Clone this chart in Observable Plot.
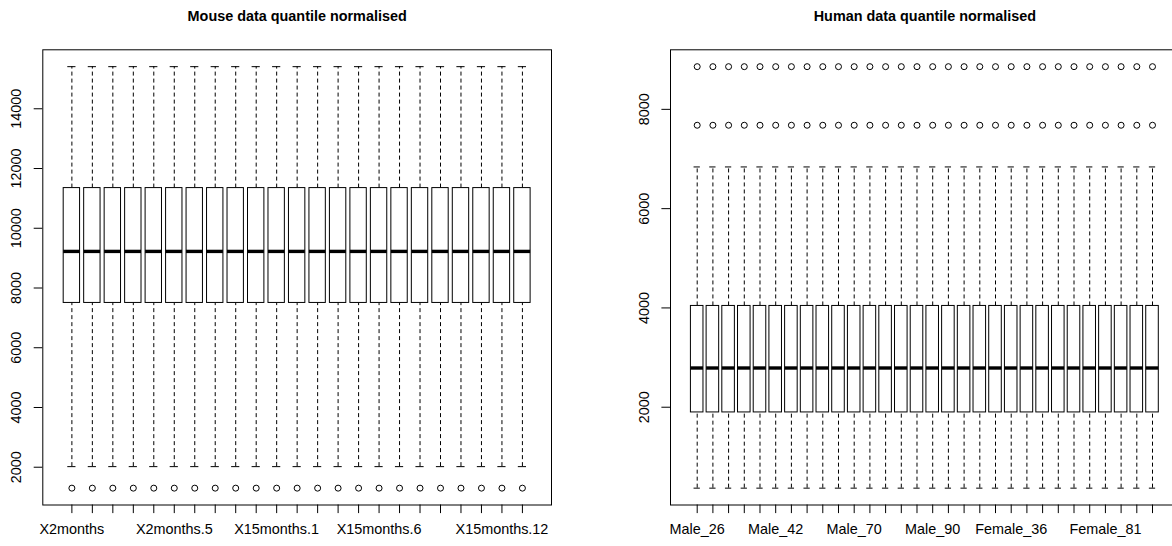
<!DOCTYPE html>
<html>
<head>
<meta charset="utf-8">
<script src="https://cdn.jsdelivr.net/npm/d3@7"></script>
<script src="https://cdn.jsdelivr.net/npm/@observablehq/plot@0.6"></script>
<style>
  html, body { margin: 0; padding: 0; background: #fff; overflow: hidden; }
  #wrap { position: relative; width: 1172px; height: 546px; overflow: hidden; background: #fff; }
  #wrap svg { position: absolute; top: 0; }
</style>
</head>
<body>
<div id="wrap"></div>
<script>
// Mouse arrays (23 samples)
const mouseSamples = [
  "X2months", "X2months.1", "X2months.2", "X2months.3", "X2months.4", "X2months.5",
  "X2months.6", "X2months.7", "X2months.8",
  "X15months", "X15months.1", "X15months.2", "X15months.3", "X15months.4", "X15months.5",
  "X15months.6", "X15months.7", "X15months.8", "X15months.9", "X15months.10",
  "X15months.11", "X15months.12", "X15months.13"
];
const mouseLabelled = ["X2months", "X2months.5", "X15months.1", "X15months.6", "X15months.12"];
// five-number summary shared by every sample after quantile normalisation:
// lower whisker, Q1, median, Q3, upper whisker
const mouseFive = [2020, 7500, 9225, 11345, 15410];
const mouseOutliers = [1300];
const mouseTicks = [2000, 4000, 6000, 8000, 10000, 12000, 14000];

// Human arrays (30 samples)
const humanSamples = [
  "Male_26", "Male_29", "Male_31", "Male_35", "Male_38", "Male_42", "Male_47", "Male_53",
  "Male_58", "Male_64", "Male_70", "Male_74", "Male_78", "Male_82", "Male_86", "Male_90",
  "Male_92", "Male_95",
  "Female_24", "Female_29", "Female_36", "Female_44", "Female_52", "Female_60", "Female_68",
  "Female_75", "Female_81", "Female_85", "Female_89", "Female_94"
];
const humanLabelled = ["Male_26", "Male_42", "Male_70", "Male_90", "Female_36", "Female_81"];
const humanFive = [370, 1895, 2790, 4040, 6840];
const humanOutliers = [7680, 8860];
const humanTicks = [2000, 4000, 6000, 8000];

const FONT = "'Liberation Sans', Arial, Helvetica, sans-serif";

function boxPanel({samples, labelled, five, outliers, ticks, title, width, marginLeft, marginRight}) {
  const n = samples.length;
  const rows = samples.map((name, k) => ({name, pos: k + 1}));
  const [lo, q1, med, q3, hi] = five;
  const yMin = Math.min(lo, ...outliers);
  const yMax = Math.max(hi, ...outliers);
  const yPad = 0.04 * (yMax - yMin);
  const xPad = 0.04 * n;
  const outRows = rows.flatMap(r => outliers.map(v => ({pos: r.pos, v})));
  const dash = "4,3";

  return Plot.plot({
    width,
    height: 546,
    marginTop: 49.3,
    marginBottom: 41.5,
    marginLeft,
    marginRight,
    style: {fontFamily: FONT, fontSize: "14.4px", color: "black", background: "white"},
    x: {domain: [0.5 - xPad, n + 0.5 + xPad]},
    y: {domain: [yMin - yPad, yMax + yPad]},
    marks: [
      // dashed whiskers
      Plot.ruleX(rows, {x: "pos", y1: () => q3, y2: () => hi, stroke: "black", strokeDasharray: dash}),
      Plot.ruleX(rows, {x: "pos", y1: () => lo, y2: () => q1, stroke: "black", strokeDasharray: dash}),
      // staples
      Plot.ruleY(rows, {y: () => hi, x1: d => d.pos - 0.2, x2: d => d.pos + 0.2, stroke: "black"}),
      Plot.ruleY(rows, {y: () => lo, x1: d => d.pos - 0.2, x2: d => d.pos + 0.2, stroke: "black"}),
      // boxes
      Plot.rect(rows, {x1: d => d.pos - 0.4, x2: d => d.pos + 0.4, y1: () => q1, y2: () => q3,
        fill: "white", stroke: "black", strokeWidth: 1}),
      // medians
      Plot.ruleY(rows, {y: () => med, x1: d => d.pos - 0.4, x2: d => d.pos + 0.4,
        stroke: "black", strokeWidth: 3.4}),
      // outliers
      Plot.dot(outRows, {x: "pos", y: "v", r: 3, stroke: "black", strokeWidth: 1, fill: "none"}),
      Plot.frame({stroke: "black", strokeWidth: 1}),
      // axes
      Plot.axisY({ticks, tickSize: 8.6, tickFormat: () => "", label: null, stroke: "black"}),
      Plot.text(ticks, {y: d => d, text: d => String(d), frameAnchor: "left", dx: -26,
        rotate: -90, textAnchor: "middle", lineAnchor: "middle", fill: "black"}),
      Plot.axisX({ticks: rows.map(r => r.pos), tickSize: 8.6, tickFormat: () => "", label: null, stroke: "black"}),
      Plot.text(rows.filter(r => labelled.includes(r.name)), {x: "pos", text: "name",
        frameAnchor: "bottom", dy: 24.5, lineAnchor: "middle", fill: "black"}),
      // title
      Plot.text([title], {text: d => d, frameAnchor: "top", dy: -28.5, lineAnchor: "bottom",
        fontWeight: "bold", fontSize: 14.4, fill: "black"})
    ]
  });
}

const wrap = document.getElementById("wrap");

const mousePlot = boxPanel({
  samples: mouseSamples, labelled: mouseLabelled, five: mouseFive, outliers: mouseOutliers,
  ticks: mouseTicks, title: "Mouse data quantile normalised",
  width: 586, marginLeft: 42.3, marginRight: 35
});
mousePlot.style.left = "0px";
wrap.appendChild(mousePlot);

const humanPlot = boxPanel({
  samples: humanSamples, labelled: humanLabelled, five: humanFive, outliers: humanOutliers,
  ticks: humanTicks, title: "Human data quantile normalised",
  width: 593, marginLeft: 84, marginRight: 0.3
});
humanPlot.style.left = "586px";
wrap.appendChild(humanPlot);
</script>
</body>
</html>
